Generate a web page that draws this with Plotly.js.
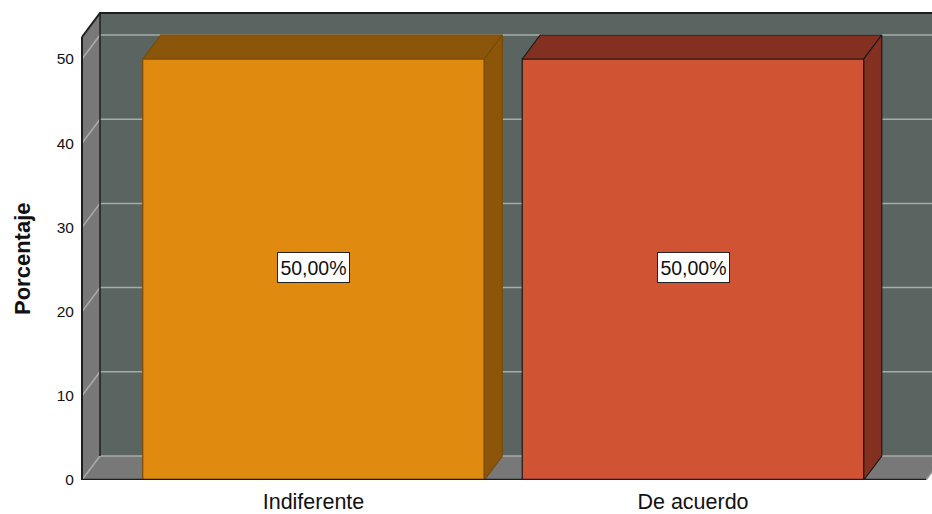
<!DOCTYPE html>
<html>
<head>
<meta charset="utf-8">
<script src="https://cdn.plot.ly/plotly-3.0.1.min.js"></script>
<style>html,body{margin:0;padding:0;background:#fff;}#chart{width:932px;height:514px;}</style>
</head>
<body>
<div id="chart"></div>
<script>
// ---- data ----
const categories = ["Indiferente", "De acuerdo"];
const percentages = [50, 50];
const yTickValues = [0, 10, 20, 30, 40, 50];
const yTickLabels = ["0", "10", "20", "30", "40", "50"];
const yTitle = "Porcentaje";
const faceColors = ["#e08a0f", "#d05334"];
const sideColors = ["#8b5609", "#843020"];
const edgeColors = ["#7a4a08", "#1a1a1a"];

// ---- geometry helpers (pixels -> data units) ----
const PX_PER_CAT = 379.5;      // pixels between category centres
const PX_PER_UNIT = 421 / 50;  // pixels per percentage point
const dx = 18 / PX_PER_CAT;    // depth offset (x)
const dy = 24 / PX_PER_UNIT;   // depth offset (y)
const barWidth = 0.9;

const plotLeftPx = 81, plotTopPx = 12, plotBottomPx = 480, widthPx = 932;
const xL = -(313.5 - plotLeftPx) / PX_PER_CAT;
const xR = xL + (widthPx - plotLeftPx) / PX_PER_CAT;
const yTopRange = (plotBottomPx - plotTopPx) / PX_PER_UNIT;
const xWall = xL + 1 / PX_PER_CAT;          // front edge of left wall
const xFloorEnd = (926 - 313.5) / PX_PER_CAT;
const backTop = (480 - 13) / PX_PER_UNIT;
const frontTop = backTop - dy;

const wallGrey = "#787878";
const backColor = "#5a6460";
const gridColor = "#a8aca9";

const shapes = [];
// back wall
shapes.push({type: "rect", xref: "x", yref: "y", layer: "below",
  x0: xWall + dx, x1: xR + 1, y0: dy, y1: backTop,
  fillcolor: backColor, line: {width: 0}});
// left wall
shapes.push({type: "path", xref: "x", yref: "y", layer: "below",
  path: `M${xWall},0 L${xWall},${frontTop} L${xWall + dx},${backTop} L${xWall + dx},${dy} Z`,
  fillcolor: wallGrey, line: {width: 0}});
// floor
shapes.push({type: "path", xref: "x", yref: "y", layer: "below",
  path: `M${xWall},0 L${xFloorEnd},0 L${xFloorEnd + dx},${dy} L${xWall + dx},${dy} Z`,
  fillcolor: wallGrey, line: {width: 0}});
// gridlines on back wall and left wall
yTickValues.forEach(v => {
  shapes.push({type: "line", xref: "x", yref: "y", layer: "below",
    x0: xWall + dx, x1: xR + 1, y0: v + dy, y1: v + dy,
    line: {color: gridColor, width: 1.5}});
  shapes.push({type: "line", xref: "x", yref: "y", layer: "below",
    x0: xWall, x1: xWall + dx, y0: v, y1: v + dy,
    line: {color: gridColor, width: 1.5}});
});
// dark frame edges
const frame = "#1e1e1e";
shapes.push({type: "line", xref: "x", yref: "y", layer: "below",
  x0: xWall + dx, x1: xWall + dx, y0: dy, y1: backTop, line: {color: frame, width: 1.5}});
shapes.push({type: "path", xref: "x", yref: "y", layer: "below",
  path: `M${xWall},${frontTop} L${xWall + dx},${backTop} L${xR + 1},${backTop}`,
  line: {color: frame, width: 2}});
shapes.push({type: "line", xref: "x", yref: "y", layer: "above",
  x0: xWall, x1: xWall, y0: 0, y1: frontTop, line: {color: frame, width: 2}});
shapes.push({type: "line", xref: "x", yref: "y", layer: "above",
  x0: xWall, x1: xFloorEnd, y0: 0, y1: 0, line: {color: frame, width: 2.5}});
shapes.push({type: "line", xref: "x", yref: "y", layer: "below",
  x0: xFloorEnd, x1: xFloorEnd + dx, y0: 0, y1: dy, line: {color: "#9a9a9a", width: 1.5}});

const xs = categories.map((c, i) => i);
const traces = [];
// front faces
traces.push({type: "bar", x: xs, y: percentages, width: barWidth,
  marker: {color: faceColors, line: {color: edgeColors, width: 1.2}},
  hoverinfo: "skip", showlegend: false});
// top and side faces
percentages.forEach((v, i) => {
  const x0 = xs[i] - barWidth / 2, x1 = xs[i] + barWidth / 2;
  traces.push({type: "scatter", mode: "lines", fill: "toself",
    x: [x0, x1, x1 + dx, x0 + dx, x0],
    y: [v, v, v + dy, v + dy, v],
    fillcolor: sideColors[i], line: {color: edgeColors[i], width: 1.2},
    hoverinfo: "skip", showlegend: false});
  traces.push({type: "scatter", mode: "lines", fill: "toself",
    x: [x1, x1 + dx, x1 + dx, x1, x1],
    y: [0, dy, v + dy, v, 0],
    fillcolor: sideColors[i], line: {color: edgeColors[i], width: 1.2},
    hoverinfo: "skip", showlegend: false});
});

const annotations = percentages.map((v, i) => ({
  x: xs[i], y: v / 2 + 0.2, xref: "x", yref: "y",
  text: v.toFixed(2).replace(".", ",") + "%",
  showarrow: false, bgcolor: "#ffffff", bordercolor: "#222", borderwidth: 1,
  width: 67, height: 25, borderpad: 2,
  font: {family: "Liberation Sans, Arial, sans-serif", size: 19.5, color: "#111"}
}));
// y-axis title (placed as rotated annotation to match position)
annotations.push({
  xref: "paper", yref: "paper",
  x: (22 - plotLeftPx) / (widthPx - plotLeftPx),
  y: (plotBottomPx - 258) / (plotBottomPx - plotTopPx),
  xanchor: "center", yanchor: "middle", textangle: -90,
  text: "<b>" + yTitle + "</b>", showarrow: false,
  font: {family: "Liberation Sans, Arial, sans-serif", size: 22, color: "#111"}
});

const layout = {
  width: 932, height: 514,
  margin: {l: plotLeftPx, r: 0, t: plotTopPx, b: 514 - plotBottomPx, pad: 0},
  paper_bgcolor: "#ffffff", plot_bgcolor: "#ffffff",
  font: {family: "Liberation Sans, Arial, sans-serif", color: "#111"},
  xaxis: {range: [xL, xR], tickvals: xs, ticktext: categories,
    showgrid: false, zeroline: false, showline: false, ticks: "",
    ticklabelstandoff: 6,
    tickfont: {size: 21.5, color: "#111"}, fixedrange: true},
  yaxis: {range: [0, yTopRange], tickvals: yTickValues, ticktext: yTickLabels,
    showgrid: false, zeroline: false, showline: false,
    ticks: "outside", ticklen: 3, tickcolor: "rgba(0,0,0,0)",
    tickfont: {size: 15.5, color: "#111"},
    fixedrange: true},
  shapes: shapes, annotations: annotations, showlegend: false
};

Plotly.newPlot("chart", traces, layout, {displayModeBar: false, staticPlot: true});
</script>
</body>
</html>
